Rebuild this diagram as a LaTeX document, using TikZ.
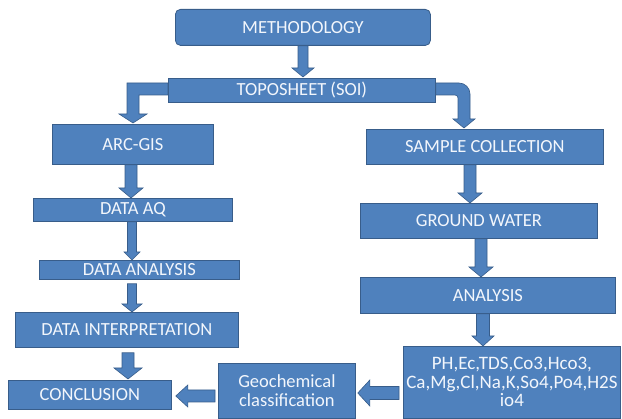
\documentclass[tikz,border=0pt]{standalone}
\usepackage{fontspec}
\setmainfont{Carlito}
\usetikzlibrary{calc}
\definecolor{boxfill}{HTML}{4F81BD}
\definecolor{boxline}{HTML}{385D8A}
\definecolor{boxtext}{HTML}{F2F6FC}
\tikzset{
  box/.style={draw=boxline, fill=boxfill, line width=0.8pt, text=boxtext,
    anchor=north west, inner sep=0pt, align=center,
    font=\fontsize{18.5}{19}\selectfont},
  blockarrow/.style={draw=boxline, fill=boxfill, line width=0.6pt, line join=miter},
}
% vertical block arrow: from #1 (south) to #2 (north) along x of coordinate #3
% #4 half shaft, #5 half head, #6 head length, #7 start gap, #8 end gap
\newcommand\vblock[8]{%
  \path[blockarrow] let \p1=(#1.south -| #3), \p2=(#2.north -| #3) in
    ({\x1-#4},{\y1-#7}) -- ({\x1+#4},{\y1-#7}) -- ({\x1+#4},{\y2+#8+#6})
    -- ({\x1+#5},{\y2+#8+#6}) -- ({\x1},{\y2+#8}) -- ({\x1-#5},{\y2+#8+#6})
    -- ({\x1-#4},{\y2+#8+#6}) -- cycle;}
% horizontal leftward block arrow: from #1 (west) to #2 (east) along y of coordinate #3
\newcommand\hblock[8]{%
  \path[blockarrow] let \p1=(#1.west |- #3), \p2=(#2.east |- #3) in
    ({\x1-#7},{\y1+#4}) -- ({\x1-#7},{\y1-#4}) -- ({\x2+#8+#6},{\y1-#4})
    -- ({\x2+#8+#6},{\y1-#5}) -- ({\x2+#8},{\y1}) -- ({\x2+#8+#6},{\y1+#5})
    -- ({\x2+#8+#6},{\y1+#4}) -- cycle;}
\begin{document}
\begin{tikzpicture}[x=1pt, y=-1pt]
\useasboundingbox (0,0) rectangle (622,419);
% nodes
\node[box, minimum width=255pt, minimum height=36pt, rounded corners=5pt] (meth) at (175,9) {METHODOLOGY};
\node[box, minimum width=267pt, minimum height=24pt] (topo) at (168,78) {TOPOSHEET (SOI)};
\node[box, minimum width=161pt, minimum height=40pt] (arc) at (52,124) {ARC-GIS};
\node[box, minimum width=199pt, minimum height=23pt] (aq) at (33,198) {DATA AQ};
\node[box, minimum width=200pt, minimum height=19pt] (dana) at (39,260) {DATA ANALYSIS};
\node[box, minimum width=223pt, minimum height=35pt] (dint) at (15,312) {DATA INTERPRETATION};
\node[box, minimum width=163pt, minimum height=29pt] (concl) at (8,380) {CONCLUSION};
\node[box, minimum width=137pt, minimum height=55pt, font=\fontsize{18.5}{19}\selectfont] (geo) at (218,363) {Geochemical\\classification};
\node[box, minimum width=237pt, minimum height=35pt] (samp) at (366,129) {SAMPLE COLLECTION};
\node[box, minimum width=237pt, minimum height=35pt] (gw) at (360,203) {GROUND WATER};
\node[box, minimum width=255pt, minimum height=36pt] (ana) at (360,277) {ANALYSIS};
\node[box, minimum width=217pt, minimum height=72pt, font=\fontsize{19}{18.5}\selectfont] (ph) at (403,346) {PH,Ec,TDS,Co3,Hco3,\\Ca,Mg,Cl,Na,K,So4,Po4,H2S\\io4};
% centre lines of the arrows
\coordinate (c303) at (303,0);
\coordinate (c131) at (131,0);
\coordinate (c132) at (132,0);
\coordinate (c128) at (128,0);
\coordinate (c133) at (133,0);
\coordinate (c464) at (464,0);
\coordinate (c470) at (470,0);
\coordinate (c481) at (481,0);
\coordinate (c483) at (483,0);
\coordinate (r89) at (0,89);
\coordinate (r396) at (0,396);
\coordinate (r393) at (0,393);
% arrows
\vblock{meth}{topo}{c303}{5pt}{11pt}{9pt}{0pt}{1pt}
\vblock{arc}{aq}{c131}{6pt}{12pt}{10pt}{0pt}{0pt}
\vblock{aq}{dana}{c132}{4.5pt}{8pt}{8pt}{0pt}{0pt}
\vblock{dana}{dint}{c132}{4.5pt}{10pt}{8pt}{4pt}{0pt}
\vblock{dint}{concl}{c128}{6pt}{14pt}{11pt}{5pt}{1pt}
\vblock{samp}{gw}{c470}{6pt}{12pt}{10pt}{0pt}{0pt}
\vblock{gw}{ana}{c481}{6pt}{12pt}{10pt}{0pt}{0pt}
\vblock{ana}{ph}{c483}{6.5pt}{11pt}{10pt}{0pt}{0pt}
\hblock{geo}{concl}{r396}{6pt}{11pt}{12pt}{3pt}{4pt}
\hblock{ph}{geo}{r393}{6.5pt}{13pt}{12pt}{4pt}{2pt}
% bent arrow to ARC-GIS
\path[blockarrow] let \p1=(topo.west |- r89), \p2=(arc.north -| c133) in
  (\x1,{\y1+6pt}) -- ({\x2-6pt},{\y1+6pt}) -- ({\x2-6pt},{\y2+10pt})
  -- ({\x2-14pt},{\y2+10pt}) -- (\x2,{\y2+1pt}) -- ({\x2+14pt},{\y2+10pt})
  -- ({\x2+6pt},{\y2+10pt}) -- ({\x2+6pt},{\y1-6pt}) -- (\x1,{\y1-6pt}) -- cycle;
% bent arrow to SAMPLE COLLECTION (rounded outer corner)
\path[blockarrow] let \p1=(topo.east |- r89), \p2=(samp.north -| c464) in
  (\x1,{\y1+6pt}) [rounded corners=11pt] -- ({\x2+6pt},{\y1+6pt}) [sharp corners] -- ({\x2+6pt},{\y2+10pt})
  -- ({\x2+11pt},{\y2+10pt}) -- (\x2,{\y2+1pt}) -- ({\x2-11pt},{\y2+10pt})
  -- ({\x2-6pt},{\y2+10pt}) [rounded corners=3pt] -- ({\x2-6pt},{\y1-6pt}) [sharp corners] -- (\x1,{\y1-6pt}) -- cycle;
\end{tikzpicture}
\end{document}
